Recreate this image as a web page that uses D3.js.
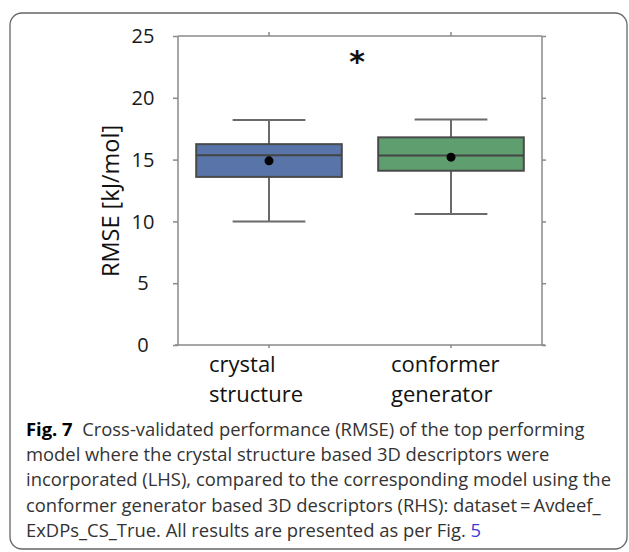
<!DOCTYPE html>
<html>
<head>
<meta charset="utf-8">
<script src="https://cdn.jsdelivr.net/npm/d3@7"></script>
<style>
  html, body { margin: 0; padding: 0; background: #fff; }
  svg { display: block; }
</style>
</head>
<body>
<svg id="fig" width="629" height="552"></svg>
<script>
// Box-plot summaries of cross-validated RMSE (kJ/mol) per descriptor source
const categories   = ["crystal structure", "conformer generator"];
const labelLines   = [["crystal", "structure"], ["conformer", "generator"]];
const whiskerLow   = [10.0, 10.6];
const quartile1    = [13.6, 14.1];
const medians      = [15.35, 15.33];
const quartile3    = [16.25, 16.8];
const whiskerHigh  = [18.2, 18.25];
const means        = [14.9, 15.2];
const boxColors    = ["#5874a8", "#5f9e6e"];
const yTicks       = [0, 5, 10, 15, 20, 25];
const yLabel       = "RMSE [kJ/mol]";
const marker       = "*";
const captionLines = [
  [{t: "Fig. 7", b: true}, {t: "  Cross-validated performance (RMSE) of the top performing"}],
  [{t: "model where the crystal structure based 3D descriptors were"}],
  [{t: "incorporated (LHS), compared to the corresponding model using the"}],
  [{t: "conformer generator based 3D descriptors (RHS): dataset\u2009=\u2009Avdeef_"}],
  [{t: "ExDPs_CS_True. All results are presented as per Fig. "}, {t: "5", link: true}]
];

const svg = d3.select("#fig");

// outer rounded frame
svg.append("rect")
  .attr("x", 10).attr("y", 13).attr("width", 617).attr("height", 536)
  .attr("rx", 12).attr("fill", "none").attr("stroke", "#666").attr("stroke-width", 1.3);

const plot = {left: 178, right: 542, top: 36, bottom: 345};

const x = d3.scaleBand().domain(categories).range([plot.left, plot.right]).paddingInner(0).paddingOuter(0);
const y = d3.scaleLinear().domain([0, 25]).range([plot.bottom, plot.top]);

const axisColor = "#8a8a8a";
const tickFont = "'Open Sans', sans-serif";

// left axis
const gl = svg.append("g").attr("transform", `translate(${plot.left},0)`)
  .call(d3.axisLeft(y).tickValues(yTicks).tickSize(5).tickPadding(0).tickFormat(""));
// right axis
const gr = svg.append("g").attr("transform", `translate(${plot.right},0)`)
  .call(d3.axisRight(y).tickValues(yTicks).tickSize(4).tickFormat(""));
// bottom axis
const gb = svg.append("g").attr("transform", `translate(0,${plot.bottom})`)
  .call(d3.axisBottom(x).tickSize(3).tickFormat(""));
// top axis
const gt = svg.append("g").attr("transform", `translate(0,${plot.top})`)
  .call(d3.axisTop(x).tickSize(4).tickFormat(""));

[gl, gr, gb, gt].forEach(g => {
  g.select(".domain").attr("stroke", axisColor).attr("stroke-width", 1.5);
  g.selectAll(".tick line").attr("stroke", axisColor).attr("stroke-width", 1.5);
});
gl.select(".domain").attr("d", `M0,${plot.top}V${plot.bottom}`);
gr.select(".domain").attr("d", `M0,${plot.top}V${plot.bottom}`);
gb.select(".domain").attr("d", `M${plot.left - 3},0H${plot.right + 3}`);
gt.select(".domain").attr("d", `M${plot.left},0H${plot.right}`);

// y tick labels
svg.append("g").selectAll("text").data(yTicks).join("text")
  .attr("x", 143).attr("y", d => y(d)).attr("dy", "0.36em")
  .attr("text-anchor", "middle")
  .attr("font-family", tickFont).attr("font-size", 20).attr("fill", "#1a1a1a")
  .text(d => d);

// y-axis title
svg.append("text")
  .attr("transform", `translate(119,201) rotate(-90)`)
  .attr("text-anchor", "middle")
  .attr("font-family", tickFont).attr("font-size", 23.5).attr("fill", "#111")
  .text(yLabel);

// category labels
const catG = svg.append("g");
categories.forEach((c, i) => {
  const cx = x(c) + x.bandwidth() / 2;
  labelLines[i].forEach((ln, j) => {
    catG.append("text")
      .attr("x", cx - 60).attr("y", 372 + j * 30)
      .attr("font-family", tickFont).attr("font-size", 22).attr("fill", "#111")
      .text(ln);
  });
});

// boxes
const bw = x.bandwidth() * 0.8;
const capW = x.bandwidth() * 0.4;
const whiskerColor = "#6a6a6a";
const boxes = svg.append("g").selectAll("g").data(categories).join("g")
  .attr("transform", c => `translate(${x(c) + x.bandwidth() / 2},0)`);

boxes.append("line")
  .attr("x1", 0).attr("x2", 0)
  .attr("y1", (c, i) => y(whiskerHigh[i])).attr("y2", (c, i) => y(quartile3[i]))
  .attr("stroke", whiskerColor).attr("stroke-width", 2);
boxes.append("line")
  .attr("x1", 0).attr("x2", 0)
  .attr("y1", (c, i) => y(quartile1[i])).attr("y2", (c, i) => y(whiskerLow[i]))
  .attr("stroke", whiskerColor).attr("stroke-width", 2);
boxes.append("line")
  .attr("x1", -capW / 2).attr("x2", capW / 2)
  .attr("y1", (c, i) => y(whiskerHigh[i])).attr("y2", (c, i) => y(whiskerHigh[i]))
  .attr("stroke", whiskerColor).attr("stroke-width", 2);
boxes.append("line")
  .attr("x1", -capW / 2).attr("x2", capW / 2)
  .attr("y1", (c, i) => y(whiskerLow[i])).attr("y2", (c, i) => y(whiskerLow[i]))
  .attr("stroke", whiskerColor).attr("stroke-width", 2);
boxes.append("rect")
  .attr("x", -bw / 2).attr("width", bw)
  .attr("y", (c, i) => y(quartile3[i]))
  .attr("height", (c, i) => y(quartile1[i]) - y(quartile3[i]))
  .attr("fill", (c, i) => boxColors[i])
  .attr("stroke", "#4a4a4a").attr("stroke-width", 2);
boxes.append("line")
  .attr("x1", -bw / 2).attr("x2", bw / 2)
  .attr("y1", (c, i) => y(medians[i])).attr("y2", (c, i) => y(medians[i]))
  .attr("stroke", "#444").attr("stroke-width", 2);
boxes.append("circle")
  .attr("cx", 0).attr("cy", (c, i) => y(means[i])).attr("r", 4.5)
  .attr("fill", "#000");

// significance marker
svg.append("text")
  .attr("x", (plot.left + plot.right) / 2 - 3).attr("y", 72)
  .attr("text-anchor", "middle")
  .attr("font-family", "'DejaVu Sans', sans-serif").attr("font-weight", "bold")
  .attr("font-size", 30).attr("fill", "#111")
  .text(marker);

// caption
const cap = svg.append("g");
captionLines.forEach((parts, i) => {
  const t = cap.append("text")
    .attr("x", 26).attr("y", 436 + i * 25.2)
    .attr("font-family", "'Open Sans', sans-serif").attr("font-size", 18.4)
    .attr("fill", "#333").attr("xml:space", "preserve");
  parts.forEach(p => {
    t.append("tspan")
      .attr("font-weight", p.b ? "bold" : null)
      .attr("fill", p.link ? "#3b3bd6" : (p.b ? "#000" : null))
      .text(p.t);
  });
});
</script>
</body>
</html>
